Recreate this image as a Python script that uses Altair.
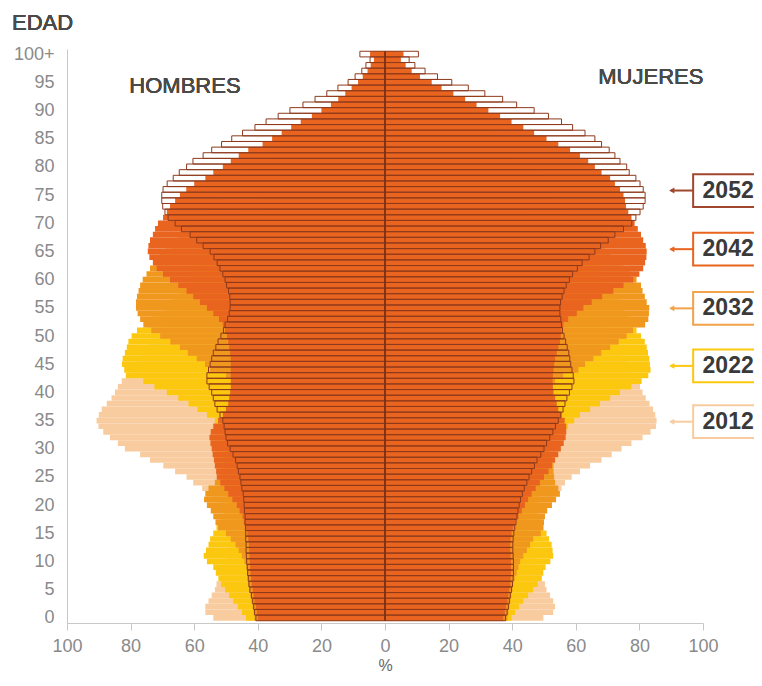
import altair as alt
import pandas as pd

AGES = list(range(101))

# Men (HOMBRES), ages 0..100+
M2012 = [54, 56.5, 56.5, 55.5, 54.5, 53.5, 53, 52, 51, 50.5,
         50, 49.5, 49, 48.5, 48, 47.5, 47.5, 48, 49, 50,
         51.5, 53, 55, 57.5, 60.3, 62.4, 66, 69.7, 73.9, 77,
         81.8, 84, 86.5, 88.6, 90.1, 90.7, 90, 89.1, 87.5, 86,
         84.9, 84, 82.8, 80.5, 79, 78, 77, 76, 75, 73.5,
         72, 70.5, 69, 67, 65, 63, 61, 59.5, 58, 57,
         56, 55, 54, 52.5, 51, 50, 48, 46, 45, 44,
         43, 40, 38, 36, 35, 34, 33, 31, 29, 27,
         25, 23, 21, 19, 17, 15, 13, 11, 9, 7.5,
         6, 4.5, 3.5, 2.5, 2, 1.5, 1, 0.7, 0.5, 0.3, 0.8]
M2022 = [43.7, 45, 46.3, 47.7, 49, 50.3, 51.5, 52.4, 53.2, 54,
         56, 57, 56.3, 55.5, 55, 54, 53, 52, 51, 50.5,
         50, 50, 50.5, 50.5, 51, 51.5, 52, 52.5, 53, 53,
         53, 53, 52.5, 52, 52.5, 53.5, 56, 59, 61.8, 65,
         68.6, 72.5, 76, 81.5, 82, 82.7, 82.5, 81.8, 81.2, 80.7,
         79.7, 78, 75, 73, 71, 69, 67, 66, 64.5, 63,
         62, 61, 60, 59, 58, 56, 55, 53.5, 52, 50,
         48, 46, 44, 42, 41, 40, 38, 36, 34, 32,
         30, 28, 26, 24, 21, 19, 17, 15, 13, 11,
         9, 7, 5.5, 4.5, 3.5, 2.5, 2, 1.5, 1, 0.7, 1.5]
M2032 = [41, 41.3, 41.6, 42, 42.3, 42.6, 42.9, 43.1, 43.3, 43.6,
         44.2, 45, 46, 47, 48.5, 50, 52.5, 53.3, 54, 54.8,
         56, 56.9, 56.5, 55.5, 53.5, 52, 51.5, 51, 50.5, 50,
         49.5, 49, 49, 48.8, 48.6, 48.4, 48, 48, 48, 48,
         48, 48, 48, 50, 55, 56.6, 59.2, 62, 64.5, 67.5,
         70.7, 73.5, 76, 77, 77.8, 78.3, 78.3, 78, 77.5, 77,
         76.2, 75, 73.9, 72.5, 71, 69, 67, 65, 63, 61,
         59, 57.5, 56, 54.5, 53, 52, 50, 48, 46, 44,
         42, 40, 37.5, 35, 32.5, 30, 27, 24.5, 22, 19.5,
         17, 14, 11.5, 9, 7, 5.5, 4, 3, 2, 1.5, 3]
M2042 = [40, 40.3, 40.6, 41, 41.3, 41.6, 41.9, 42.1, 42.3, 42.4,
         42.5, 42.6, 42.7, 42.8, 43, 43.3, 44, 44.4, 44.8, 45.7,
         46.6, 48, 49.3, 50.5, 51.8, 52.9, 53.1, 53.5, 53.8, 54.2,
         54.5, 54.9, 55.2, 54.8, 54, 52.5, 51, 50, 49.3, 49,
         48.7, 48.5, 48.5, 48.5, 48.5, 48.5, 48.5, 48.7, 49, 49.3,
         49.7, 50.3, 51, 52.2, 54, 56, 58.2, 60.3, 62.4, 65,
         67.6, 69.8, 71.8, 73, 74.1, 74.6, 74.4, 73.9, 73, 72.3,
         71.4, 69.8, 68.6, 67.6, 66, 64.5, 62.5, 60, 56.5, 54,
         51, 48.5, 46, 43, 38.5, 35.5, 32.5, 29.5, 26.5, 23,
         20, 17, 14.7, 12.5, 10.5, 8.5, 7, 5.5, 4.5, 3.5, 4.7]
M2052 = [40.6, 41, 41.3, 41.6, 42, 42.5, 42.8, 43, 43.2, 43.3,
         43.5, 43.6, 43.7, 43.7, 43.8, 43.8, 43.9, 44, 44, 44.2,
         44.3, 44.4, 44.6, 45, 45.3, 45.6, 46.1, 46.5, 47, 47.8,
         48.7, 49.5, 50, 50.3, 50.6, 51, 51.9, 52.8, 53.5, 54,
         54.5, 55.3, 56, 56, 55.5, 55, 54.5, 54, 53.2, 52.5,
         51.6, 50.8, 50.3, 49.5, 49, 48.7, 48.7, 48.8, 49.2, 49.8,
         50.3, 51, 51.9, 52.8, 53.8, 55, 57.2, 59.2, 61.3, 64,
         66, 68.2, 69.2, 69.9, 70.2, 70.2, 69.8, 68.5, 66.6, 64.7,
         62.4, 60.4, 57.2, 54.5, 51.4, 48.2, 44.8, 40.9, 37.4, 33.6,
         29.9, 25.8, 22, 18.3, 14.8, 11.6, 9.4, 7.3, 6, 4.7, 7.9]

# Women (MUJERES), ages 0..100+
F2012 = [49.8, 52.9, 53.5, 52.9, 51.9, 50.8, 50.3, 49, 48.5, 48,
         47.5, 47, 46.5, 46, 45.5, 45, 45, 45.5, 46, 47,
         48.5, 50.5, 53, 55.5, 56.6, 58.7, 61.3, 64.5, 68.1, 71.3,
         74.4, 77.5, 81, 83.5, 85.2, 85.4, 85, 84.3, 83.2, 82,
         81, 80.2, 79.5, 78, 77, 76, 75, 74, 73, 72,
         71, 70, 69, 68, 67, 65.5, 64, 62.5, 61, 60,
         59, 58, 57, 56, 55, 54, 52.5, 51, 50, 49,
         48, 46, 44.5, 43, 42.5, 42, 41, 40, 38.5, 37,
         35, 33, 31, 29, 27, 25, 22.5, 20, 17.5, 15,
         12.5, 10, 8, 6, 4.5, 3.5, 2.5, 1.8, 1.2, 0.8, 2]
F2022 = [39.8, 40.9, 42.2, 43.5, 45, 46.6, 48, 49.3, 49.8, 50.5,
         52, 52.9, 52.7, 52.4, 51.6, 50.8, 49.8, 49, 48.5, 48,
         48, 48, 48, 48.5, 49, 49.5, 50, 50.5, 51, 51.5,
         52, 52.5, 53.5, 55, 57.6, 59.5, 61.3, 64.5, 67.6, 70.8,
         73.9, 77.5, 80.7, 82.8, 83.5, 83.3, 83.1, 82.7, 82.3, 81.7,
         80.5, 79.1, 78, 77, 76, 75, 73.5, 72, 71, 70,
         69, 68, 67, 66, 65, 64, 63, 62, 61, 60,
         59, 58, 57, 56, 55, 54, 53, 52, 50.5, 49,
         47.5, 46, 44, 42, 40, 38, 35.5, 33, 30, 27,
         24, 21, 18, 15, 12, 9.5, 7, 5, 3.5, 2.5, 4]
F2032 = [38.5, 38.8, 39.1, 39.4, 39.7, 40, 40.3, 40.8, 41.4, 42,
         42.5, 43.5, 44.6, 45.6, 46.6, 49, 49.8, 50, 50.3, 51,
         52.5, 53.8, 55, 54.5, 53.5, 53.2, 53, 53, 52.5, 52,
         51.5, 51, 51, 51, 51, 51, 51, 51, 51, 51.5,
         52, 52.5, 53.5, 56, 60.8, 62.9, 65.5, 68, 70.8, 73.5,
         76, 78, 81.8, 82.8, 83, 83.1, 82.3, 81.7, 81, 80.5,
         79.1, 77, 75, 73, 71, 69, 67, 65, 63, 61,
         59.5, 58, 56.5, 55, 54, 53, 51.5, 50, 48.5, 47,
         45, 43, 41, 39, 36.5, 34, 31, 28, 25, 22,
         19, 16, 13, 10.5, 8, 6, 4.5, 3.5, 2.5, 2, 4]
F2042 = [37.2, 37.7, 38.1, 38.5, 38.8, 39.1, 39.4, 39.5, 39.6, 39.6,
         39.6, 39.5, 39.4, 39.4, 39.5, 39.8, 40.3, 41, 42, 43,
         44, 45, 46.1, 47.4, 48.7, 50, 51.4, 52.5, 53.5, 54.5,
         55.3, 56.2, 56.8, 57, 57, 56.5, 55.5, 54.5, 54, 53.5,
         53, 52.8, 52.7, 52.8, 53, 53.2, 53.5, 54, 54.5, 55,
         55.3, 55.5, 56.1, 57.6, 60.3, 62.4, 65, 68.3, 71.8, 75,
         78.1, 80, 81.2, 81.8, 82.2, 82.3, 82, 81.2, 80.5, 79.5,
         78.5, 77.5, 76.5, 75.8, 75.5, 75, 73.9, 72.3, 70.8, 68.1,
         66, 63.9, 61.3, 58.2, 54.5, 50.8, 46.9, 43.5, 39.8, 36.2,
         32.5, 28.8, 25.2, 21.5, 17.8, 14.7, 11, 8.4, 6.5, 5, 5.8]
F2052 = [37.9, 38.4, 38.8, 39.1, 39.4, 39.8, 40.1, 40.3, 40.4, 40.4,
         40.4, 40.3, 40.2, 40.2, 40.3, 40.5, 40.8, 41.2, 41.5, 41.8,
         42.2, 42.6, 43.2, 43.8, 44.6, 45.3, 46.1, 47, 47.8, 49,
         50, 50.8, 51.8, 52.8, 53.6, 54.5, 55.3, 56, 56.6, 57.2,
         58, 58.8, 59.4, 59.2, 58.8, 58.4, 58.1, 57.8, 57.3, 56.8,
         56.3, 55.8, 55.5, 55.3, 55, 55, 55.2, 55.7, 56.3, 57,
         58, 59, 60.5, 62, 64.2, 66, 67.8, 70.2, 72.3, 75,
         77.6, 78.9, 80.2, 81.2, 81.8, 81.8, 81.2, 80.2, 78.9, 76.8,
         76, 73.9, 72.3, 70.5, 68.1, 66, 62.9, 59, 55.5, 51.4,
         46.9, 41.4, 37, 31.4, 26.2, 21, 16.5, 12.6, 9.4, 7.6, 10.5]

YEARS = ["2012", "2022", "2032", "2042", "2052"]
SERIES = {"2012": (M2012, F2012), "2022": (M2022, F2022), "2032": (M2032, F2032),
          "2042": (M2042, F2042), "2052": (M2052, F2052)}
FILLS = {"2012": "#F8CC9F", "2022": "#FCC70F", "2032": "#F0971E", "2042": "#E8641F"}
OUTLINE = "#8E3A1C"
LABEL_COLORS = ["#A0472D", "#E8641F", "#F2A24A", "#FCC70F", "#F8CC9F"]
LABEL_YEARS = ["2052", "2042", "2032", "2022", "2012"]
LABEL_AGE = [75.8, 65.4, 54.9, 44.7, 34.8]

rows = []
for yr in YEARS:
    m, f = SERIES[yr]
    for a in AGES:
        rows.append({"age": a, "year": yr, "val": -m[a]})
        rows.append({"age": a, "year": yr, "val": f[a]})
df = pd.DataFrame(rows)

FONT = "Liberation Sans"
xsc = alt.Scale(domain=[-100, 100], nice=False, zero=False)
ysc = alt.Scale(domain=[-0.9, 100.9], nice=False, zero=False)

xaxis = alt.Axis(values=list(range(-100, 101, 20)), labelExpr="abs(datum.value)",
                 title="%", grid=False, domainColor="#c8c8c8", tickColor="#c8c8c8",
                 tickSize=7, labelColor="#8a8a8a", labelFontSize=18, labelPadding=7,
                 labelFlush=False, labelOverlap=False,
                 titleFontSize=16, titleFontWeight="normal", titleColor="#666", titlePadding=2,
                 labelFont=FONT, titleFont=FONT)
yaxis = alt.Axis(values=list(range(0, 101, 5)),
                 labelExpr="datum.value == 100 ? '100+' : datum.value",
                 title="", grid=False, ticks=False, tickSize=0, domainColor="#c8c8c8",
                 labelColor="#8a8a8a", labelFontSize=18, labelPadding=13, labelFont=FONT,
                 labelOverlap=False)


def xf(field):
    return alt.X(field, scale=xsc, axis=xaxis)


def yf(field):
    return alt.Y(field, scale=ysc, axis=yaxis)


def xd(v):
    return alt.XDatum(v, scale=xsc, axis=xaxis)


def yd(v):
    return alt.YDatum(v, scale=ysc, axis=yaxis)


base = alt.Chart(df).transform_calculate(y0="datum.age - 0.5", y1="datum.age + 0.5", z="0")

layers = []
for yr in YEARS:
    sub = base.transform_filter(alt.datum.year == yr)
    if yr == "2052":
        mk = sub.mark_bar(fill="transparent", stroke=OUTLINE, strokeWidth=1, opacity=1)
    else:
        mk = sub.mark_bar(color=FILLS[yr], opacity=1)
    layers.append(mk.encode(x=xf("val:Q"), x2="z:Q", y=yf("y0:Q"), y2="y1:Q"))

center = alt.Chart(pd.DataFrame({"x": [0], "a": [AGES[0] - 0.5], "b": [AGES[-1] + 0.5]})).mark_rule(
    color="#7A2E12", strokeWidth=1.5).encode(x=xf("x:Q"), y=yf("a:Q"), y2="b:Q")

lab = pd.DataFrame({"year": LABEL_YEARS, "lage": LABEL_AGE})
lab_base = alt.Chart(lab).transform_calculate(b0="datum.lage - 2.9", b1="datum.lage + 2.9")
col = alt.Scale(domain=LABEL_YEARS, range=LABEL_COLORS)

boxes = lab_base.mark_rect(fill="white", strokeWidth=2).encode(
    x=xd(96.9), x2=alt.X2Datum(125), y=yf("b0:Q"), y2="b1:Q",
    stroke=alt.Stroke("year:N", scale=col, legend=None))
arrows = lab_base.mark_rule(strokeWidth=2).encode(
    x=xd(89.8), x2=alt.X2Datum(96.9), y=yf("lage:Q"),
    color=alt.Color("year:N", scale=col, legend=None))
heads = lab_base.mark_point(shape="triangle-left", filled=True, size=35, opacity=1).encode(
    x=xd(90.2), y=yf("lage:Q"),
    color=alt.Color("year:N", scale=col, legend=None))
texts = lab_base.mark_text(fontSize=23, fontWeight="bold", color="#3a3a3a", font=FONT,
                           baseline="middle", align="center").encode(
    x=xd(107.9), y=yf("lage:Q"), text="year:N")

hombres = alt.Chart(lab).mark_text(text="HOMBRES", fontSize=22, color="#4a4a4a", font=FONT,
                                   baseline="middle", align="center").encode(
    x=xd(-62.9), y=yd(94.3))
mujeres = alt.Chart(lab).mark_text(text="MUJERES", fontSize=22, color="#4a4a4a", font=FONT,
                                   baseline="middle", align="center").encode(
    x=xd(83.6), y=yd(95.9))
edad = alt.Chart(lab).mark_text(text="EDAD", fontSize=22, color="#4a4a4a", font=FONT,
                                baseline="middle", align="left").encode(
    x=xd(-117.3), y=yd(105.5))

chart = alt.layer(*layers, center, arrows, heads, boxes, texts, hombres, mujeres, edad).properties(
    width=636, height=574,
    autosize=alt.AutoSizeParams(type="none"),
    padding={"left": 59, "top": 41, "right": 51, "bottom": 50},
).configure(font=FONT).configure_view(stroke=None)

chart.save("out.html", embed_options={"renderer": "svg", "actions": False})
